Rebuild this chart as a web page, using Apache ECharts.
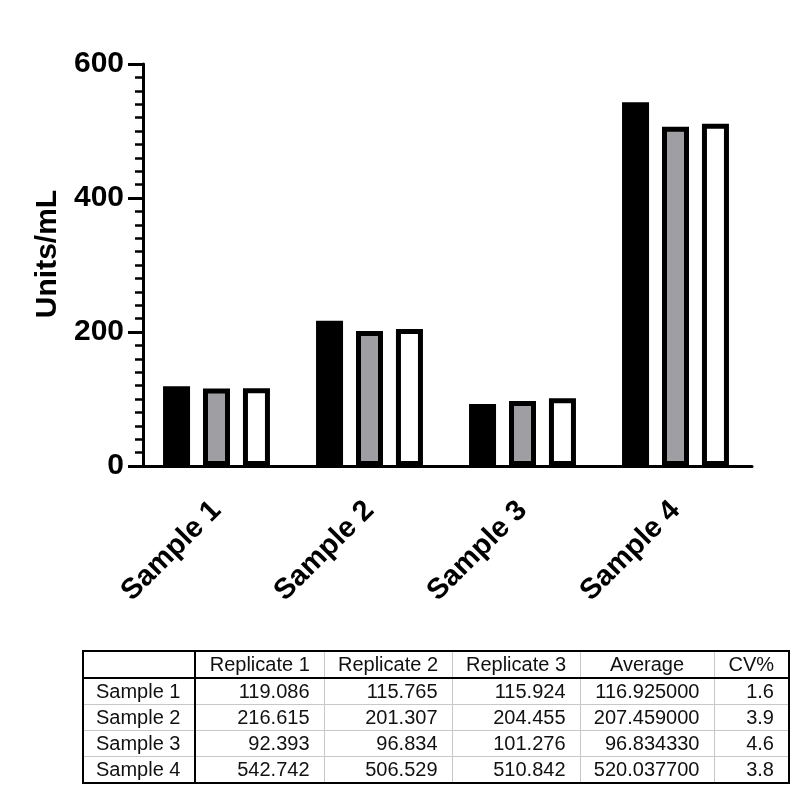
<!DOCTYPE html>
<html>
<head>
<meta charset="utf-8">
<script src="https://cdn.jsdelivr.net/npm/echarts@6/dist/echarts.min.js"></script>
<style>
  html, body { margin: 0; padding: 0; background: #fff; }
  #chart { position: absolute; left: 0; top: 0; width: 800px; height: 797px; }
  #tbl {
    position: absolute; left: 82px; top: 650px; width: 706px;
    border-collapse: collapse; border: 2px solid #000;
    font-family: "Liberation Sans", Arial, sans-serif; font-size: 20px; color: #111;
    table-layout: fixed;
  }
  #tbl td, #tbl th { height: 25px; padding: 0 14px 0 12px; border: 1px solid #c8c8c8; font-weight: normal; line-height: 25px; white-space: nowrap; }
  #tbl th { text-align: center; padding: 0 4px; border-bottom: 2px solid #000; }
  #tbl td { text-align: right; }
  #tbl td.rowname { text-align: left; }
  #tbl .c0 { border-right: 2px solid #000; }
</style>
</head>
<body>
<div id="chart"></div>
<table id="tbl"></table>
<script>
// ---- data ----
const categories = ['Sample 1', 'Sample 2', 'Sample 3', 'Sample 4'];
const replicate1 = [119.086, 216.615, 92.393, 542.742];
const replicate2 = [115.765, 201.307, 96.834, 506.529];
const replicate3 = [115.924, 204.455, 101.276, 510.842];
const averages = [116.925000, 207.459000, 96.834330, 520.037700];
const cvPercent = [1.6, 3.9, 4.6, 3.8];
const tableHeaders = ['', 'Replicate 1', 'Replicate 2', 'Replicate 3', 'Average', 'CV%'];
const yTicks = [0, 200, 400, 600];
const yAxisTitle = 'Units/mL';

// ---- chart ----
const font = '"Liberation Sans", Arial, sans-serif';
const chart = echarts.init(document.getElementById('chart'), null, { renderer: 'canvas' });
const barBase = { type: 'bar', barWidth: 27, barGap: '48%', animation: false };
chart.setOption({
  animation: false,
  grid: { left: 140, right: 48, top: 64, bottom: 331, containLabel: false },
  xAxis: {
    type: 'category',
    data: categories,
    axisLine: { lineStyle: { color: '#000', width: 3 } },
    axisTick: { alignWithLabel: true, length: 16, lineStyle: { color: '#000', width: 3 } },
    axisLabel: {
      interval: 0, rotate: 45, margin: 40, color: '#000',
      fontFamily: font, fontWeight: 'bold', fontSize: 29
    }
  },
  yAxis: {
    type: 'value',
    offset: -3,
    min: yTicks[0], max: yTicks[yTicks.length - 1], interval: 200,
    name: yAxisTitle, nameLocation: 'middle', nameGap: 77, nameRotate: 90,
    nameTextStyle: { color: '#000', fontFamily: font, fontWeight: 'bold', fontSize: 30, padding: [0, 0, 0, 22] },
    axisLine: { show: true, lineStyle: { color: '#000', width: 3 } },
    axisTick: { show: true, length: 15, lineStyle: { color: '#000', width: 3 } },
    minorTick: { show: true, splitNumber: 10, length: 8, lineStyle: { color: '#000', width: 2.5 } },
    splitLine: { show: false },
    axisLabel: { margin: 19, color: '#000', fontFamily: font, fontWeight: 'bold', fontSize: 30 }
  },
  series: [
    Object.assign({}, barBase, { name: 'Replicate 1', data: replicate1, itemStyle: { color: '#000', borderColor: '#000', borderWidth: 5 } }),
    Object.assign({}, barBase, { name: 'Replicate 2', data: replicate2, itemStyle: { color: '#9f9fa3', borderColor: '#000', borderWidth: 5 } }),
    Object.assign({}, barBase, { name: 'Replicate 3', data: replicate3, itemStyle: { color: '#fff', borderColor: '#000', borderWidth: 5 } })
  ]
});

// ---- table ----
const colWidths = [112, 129, 128, 128, 134, 75];
const tbl = document.getElementById('tbl');
let html = '<colgroup>' + colWidths.map(w => '<col style="width:' + w + 'px">').join('') + '</colgroup>';
html += '<tr>' + tableHeaders.map((h, i) => '<th class="c' + i + '">' + h + '</th>').join('') + '</tr>';
categories.forEach((c, r) => {
  html += '<tr><td class="rowname c0">' + c + '</td>' +
    '<td>' + replicate1[r].toFixed(3) + '</td>' +
    '<td>' + replicate2[r].toFixed(3) + '</td>' +
    '<td>' + replicate3[r].toFixed(3) + '</td>' +
    '<td>' + averages[r].toFixed(6) + '</td>' +
    '<td>' + cvPercent[r].toFixed(1) + '</td></tr>';
});
tbl.innerHTML = html;
</script>
</body>
</html>
